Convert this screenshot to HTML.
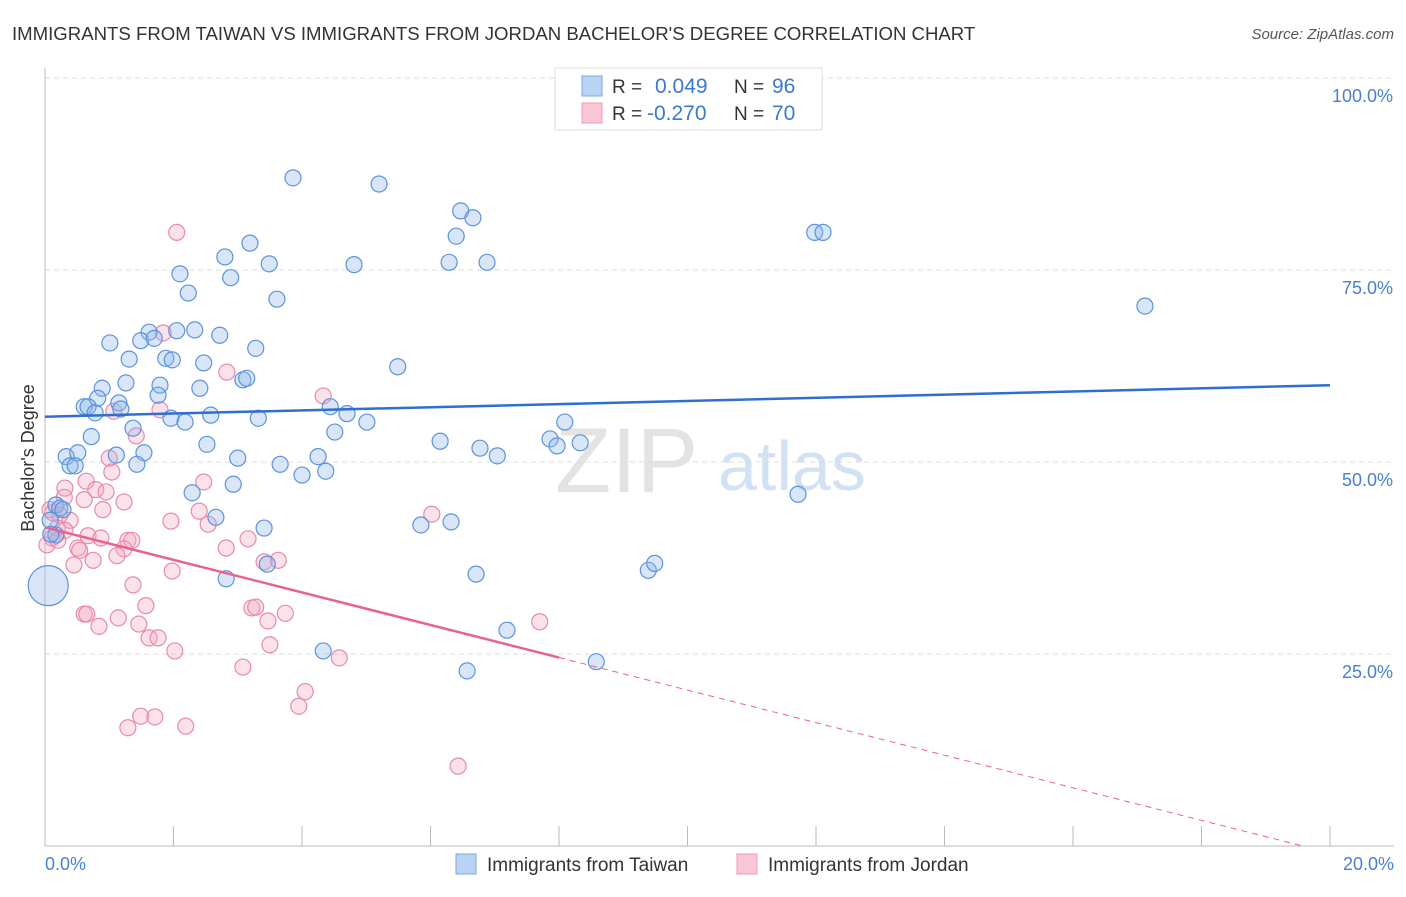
<!DOCTYPE html>
<html><head><meta charset="utf-8"><style>
body{margin:0;background:#fff;font-family:"Liberation Sans",sans-serif;}
svg text{font-family:"Liberation Sans",sans-serif;}
</style></head><body>
<svg id="chart" width="1406" height="892" viewBox="0 0 1406 892" xmlns="http://www.w3.org/2000/svg">
<text x="12" y="40" font-size="18.6" fill="#333">IMMIGRANTS FROM TAIWAN VS IMMIGRANTS FROM JORDAN BACHELOR'S DEGREE CORRELATION CHART</text>
<text x="1394" y="39" font-size="15" fill="#555" text-anchor="end" font-style="italic">Source: ZipAtlas.com</text>
<g id="grid"></g>
<g>
<text x="555" y="492" font-size="92" fill="#ddd" font-family="Liberation Serif" opacity="0.8">ZIP</text>
<text x="718" y="490" font-size="70" fill="#c8dcf2" opacity="0.8">atlas</text>
</g>
<g id="axes"></g>
<g id="marks"></g>
<text transform="translate(34,458) rotate(-90)" font-size="18" fill="#333" text-anchor="middle">Bachelor's Degree</text>
<text x="45" y="870" font-size="18" fill="#4a7fd4">0.0%</text>
<text x="1394" y="870" font-size="18" fill="#4a7fd4" text-anchor="end">20.0%</text>
<g>
<rect x="555" y="68" width="267" height="62" fill="#fff" stroke="#ddd"/>
<rect x="582" y="76" width="20" height="20" fill="#b8d3f4" stroke="#7aa8e4"/>
<rect x="582" y="103" width="20" height="20" fill="#f9c6d6" stroke="#ee9ab8"/>
<text x="612" y="93" font-size="19" fill="#333">R =</text>
<text x="655" y="93" font-size="21" fill="#3b78d0">0.049</text>
<text x="734" y="93" font-size="19" fill="#333">N =</text>
<text x="772" y="93" font-size="21" fill="#3b78d0">96</text>
<text x="612" y="120" font-size="19" fill="#333">R =</text>
<text x="647" y="120" font-size="21" fill="#3b78d0">-0.270</text>
<text x="734" y="120" font-size="19" fill="#333">N =</text>
<text x="772" y="120" font-size="21" fill="#3b78d0">70</text>
</g>
<g>
<rect x="456" y="854" width="20" height="20" fill="#b8d3f4" stroke="#7aa8e4"/>
<text x="487" y="871" font-size="19" fill="#333">Immigrants from Taiwan</text>
<rect x="737" y="854" width="20" height="20" fill="#f9c6d6" stroke="#ee9ab8"/>
<text x="768" y="871" font-size="19" fill="#333">Immigrants from Jordan</text>
</g>
</svg>
<script>
const yTicks=[25,50,75,100];
const yTickLabels=["25.0%","50.0%","75.0%","100.0%"];
const xTicks=[0,2,4,6,8,10,12,14,16,18,20];
const taiwanX=[3.86,5.20,6.47,6.66,6.40,3.19,2.80,3.49,4.81,6.29,6.88,2.10,2.89,2.23,3.61,11.98,12.11,17.12,1.01,1.62,2.05,2.33,2.72,1.49,1.70,1.31,1.88,1.98,2.47,3.28,5.49,0.89,1.26,1.79,2.41,3.08,3.14,0.82,1.15,1.76,0.61,0.67,0.78,1.18,1.96,2.18,2.58,3.32,4.44,4.70,5.01,8.09,0.72,1.37,4.51,6.15,6.77,7.04,7.86,7.97,8.33,2.52,0.33,0.51,0.39,0.47,1.11,1.54,3.00,4.25,1.43,3.66,4.00,4.37,2.93,2.29,11.72,0.17,0.23,0.28,0.08,2.66,3.41,5.85,6.32,0.17,0.09,3.46,6.71,9.39,9.49,2.82,7.19,4.33,6.57,8.58];
const taiwanY=[87.0,86.2,82.7,81.8,79.4,78.5,76.7,75.8,75.7,76.0,76.0,74.5,74.0,72.0,71.2,79.9,79.9,70.3,65.5,66.9,67.1,67.2,66.5,65.8,66.1,63.4,63.5,63.3,62.9,64.8,62.4,59.6,60.3,60.0,59.6,60.7,60.9,58.3,57.7,58.7,57.2,57.2,56.4,56.9,55.7,55.2,56.1,55.7,57.2,56.3,55.2,55.2,53.3,54.4,53.9,52.7,51.8,50.8,53.0,52.1,52.5,52.3,50.7,51.2,49.5,49.5,50.9,51.2,50.5,50.7,49.7,49.7,48.3,48.8,47.1,46.0,45.8,44.4,44.0,43.8,42.4,42.8,41.4,41.8,42.2,40.5,40.6,36.7,35.4,35.9,36.8,34.8,28.1,25.4,22.8,24.0];
const taiwanBig=[0.05,33.9];
const jordanX=[2.05,1.84,2.83,4.33,1.79,1.07,1.42,1.00,2.47,1.04,0.64,0.31,0.79,0.95,1.23,0.30,0.61,0.08,0.12,0.23,0.39,0.90,1.96,2.54,2.40,6.02,0.19,0.31,0.11,0.03,0.20,0.67,1.29,1.35,0.87,3.16,2.82,0.51,0.54,1.23,1.12,0.75,0.45,1.98,3.63,3.41,1.37,1.57,0.61,0.65,1.14,0.84,1.46,3.22,3.28,3.74,3.47,1.62,1.76,2.02,3.50,4.58,7.70,3.08,4.05,3.95,1.49,1.71,1.29,2.19,6.43];
const jordanY=[79.9,66.8,61.7,58.6,56.8,56.6,53.4,50.5,47.4,48.7,47.5,46.6,46.4,46.1,44.8,45.4,45.1,43.8,43.4,43.1,42.4,43.8,42.3,41.9,43.6,43.2,41.4,41.1,40.1,39.2,39.8,40.4,39.8,39.8,40.1,40.0,38.8,38.8,38.5,38.7,37.8,37.2,36.6,35.8,37.2,37.0,34.0,31.3,30.2,30.2,29.7,28.6,28.9,31.0,31.1,30.3,29.3,27.1,27.1,25.4,26.2,24.5,29.2,23.3,20.1,18.2,16.9,16.8,15.4,15.6,10.4];
const taiwanTrend=[55.9,60.0];
const jordanTrend=[41.5,-2.12];
const jordanSolidEnd=8.0;

const NS="http://www.w3.org/2000/svg";
const xs=v=>45+v/20*1285;
const ys=v=>846-v*7.68;
function mk(tag,parent,attrs){const e=document.createElementNS(NS,tag);for(const k in attrs)e.setAttribute(k,attrs[k]);parent.appendChild(e);return e;}
const grid=document.getElementById('grid'),axes=document.getElementById('axes'),marks=document.getElementById('marks');
yTicks.forEach((t,i)=>{
 const l=mk('line',grid,{x1:45,x2:1394,y1:ys(t),y2:ys(t),stroke:'#ddd','stroke-dasharray':'5,4'});
 
 
 const tx=mk('text',axes,{x:1393,y:ys(t)+24,'font-size':18,fill:'#4a7fd4','text-anchor':'end'});
 tx.textContent=yTickLabels[i];
 
 
});
const ax=mk('line',axes,{x1:45,x2:45,y1:68,y2:846,stroke:'#bbb'});


const bx=mk('line',axes,{x1:45,x2:1394,y1:846,y2:846,stroke:'#bbb'});


xTicks.forEach(t=>{
 const l=mk('line',axes,{x1:xs(t),x2:xs(t),y1:826,y2:846,stroke:'#bbb'});
 
 
});
function pts(X,Y,fill,stroke,name){
 X.forEach((x,i)=>{
  const c=mk('circle',marks,{cx:xs(x),cy:ys(Y[i]),r:8,fill:fill,'fill-opacity':0.35,stroke:stroke,'stroke-width':1.2});
  
  
 });
}
pts(jordanX,jordanY,'#f4a8c2','#e88aac','jordan-point');
pts(taiwanX,taiwanY,'#8fb8ec','#5b93dc','taiwan-point');
const big=mk('circle',marks,{cx:xs(taiwanBig[0]),cy:ys(taiwanBig[1]),r:20,fill:'#8fb8ec','fill-opacity':0.35,stroke:'#5b93dc','stroke-width':1.2});


const tl=mk('line',marks,{x1:xs(0),y1:ys(taiwanTrend[0]),x2:xs(20),y2:ys(taiwanTrend[1]),stroke:'#2f6fd0','stroke-width':2.5});


const jf=x=>jordanTrend[0]+jordanTrend[1]*x;
const jl=mk('line',marks,{x1:xs(0),y1:ys(jf(0)),x2:xs(jordanSolidEnd),y2:ys(jf(jordanSolidEnd)),stroke:'#e8628f','stroke-width':2.5});


const xEnd=-jordanTrend[0]/jordanTrend[1];
const jd=mk('line',marks,{x1:xs(jordanSolidEnd),y1:ys(jf(jordanSolidEnd)),x2:xs(xEnd),y2:ys(0),stroke:'#e8628f','stroke-width':1,'stroke-dasharray':'6,5'});


</script>
</body></html>
